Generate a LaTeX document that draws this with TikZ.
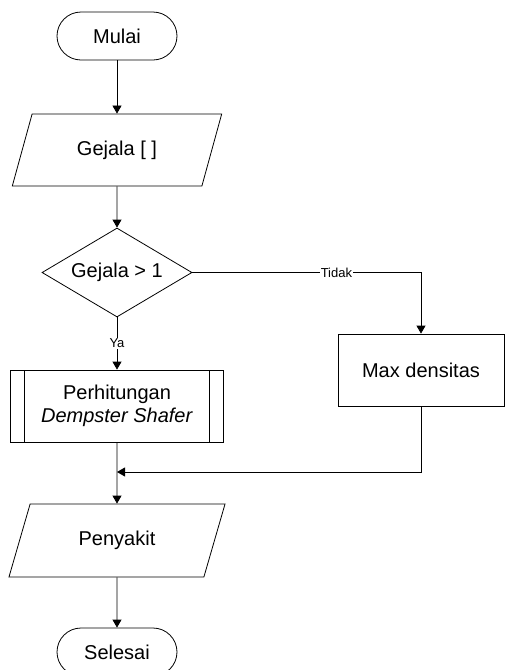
\documentclass[tikz,border=0pt]{standalone}
\usepackage{fontspec}
\setmainfont{Liberation Sans}
\usepackage{tikz}
\usetikzlibrary{shapes.geometric,arrows.meta}

\begin{document}
\begin{tikzpicture}[x=1pt,y=-1pt,line width=0.8pt,
  every node/.style={font=\fontsize{20}{23}\selectfont},
  terminal/.style={draw, rounded corners=24pt, minimum width=120pt, minimum height=48pt, inner sep=0pt},
  iobox/.style={draw, trapezium, trapezium left angle=63.4, trapezium right angle=116.6, trapezium stretches=true, minimum width=210pt, minimum height=72pt, inner sep=0pt},
  decision/.style={draw, diamond, aspect=1.67, minimum width=150pt, minimum height=89pt, inner sep=0pt},
  box/.style={draw, minimum width=166pt, minimum height=72pt},
  process/.style={draw, minimum width=213pt, minimum height=72pt, align=center,
    path picture={\draw ([xshift=14pt]path picture bounding box.north west) -- ([xshift=14pt]path picture bounding box.south west);
                  \draw ([xshift=-14pt]path picture bounding box.north east) -- ([xshift=-14pt]path picture bounding box.south east);}},
  lbl/.style={fill=white, inner sep=1pt, font=\fontsize{13}{14}\selectfont},
  arr/.style={-{Triangle[width=9pt,length=8pt]}}]
  \useasboundingbox (0,0) rectangle (505,670);
   \node[terminal] (mulai) at (117,36) {Mulai};
   \node[iobox] (gejala) at (117,150) {Gejala [ ]};
   \node[decision] (cek) at (117,272.5) {Gejala > 1};
   \node[process] (ds) at (117,406) {Perhitungan\\ \textit{Dempster Shafer}};
   \node[box] (maxd) at (421,370) {Max densitas};
   \coordinate (gabung) at (117,472);
   \node[iobox, minimum width=218pt, minimum height=73pt] (penyakit) at (117,540.5) {Penyakit};
   \node[terminal] (selesai) at (117,652) {Selesai};
  % alur
   \draw[arr] (mulai) -- (gejala);
   \draw[arr] (gejala) -- (cek);
   \draw[arr] (cek) -- node[lbl] {Ya} (ds);
   \draw[arr] (cek.east) -| node[lbl, pos=0.315] {Tidak} (maxd.north);
   \draw[arr] (maxd.south) |- (gabung);
   \draw[arr] (ds) -- (penyakit);
   \draw[arr] (penyakit) -- (selesai);
\end{tikzpicture}
\end{document}
